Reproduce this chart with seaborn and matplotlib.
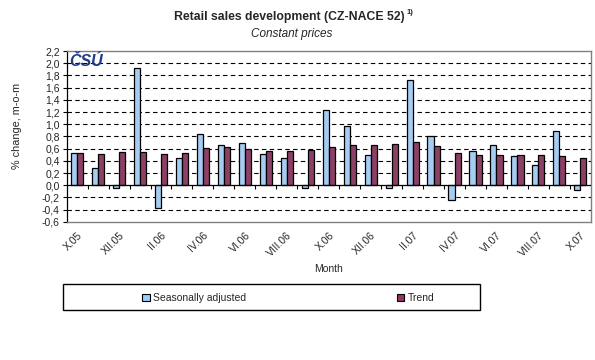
import pandas as pd
import seaborn as sns
import matplotlib.pyplot as plt
from matplotlib.patches import Rectangle

months = ["X.05", "XI.05", "XII.05", "I.06", "II.06", "III.06", "IV.06", "V.06",
          "VI.06", "VII.06", "VIII.06", "IX.06", "X.06", "XI.06", "XII.06", "I.07",
          "II.07", "III.07", "IV.07", "V.07", "VI.07", "VII.07", "VIII.07", "IX.07",
          "X.07"]
seas_adj = [0.53, 0.28, -0.05, 1.92, -0.37, 0.44, 0.84, 0.66, 0.69, 0.51, 0.44,
            -0.05, 1.23, 0.97, 0.49, -0.05, 1.73, 0.81, -0.25, 0.56, 0.66, 0.48,
            0.33, 0.89, -0.08]
trend = [0.53, 0.51, 0.54, 0.54, 0.51, 0.53, 0.61, 0.62, 0.59, 0.56, 0.56,
         0.575, 0.62, 0.66, 0.66, 0.67, 0.71, 0.64, 0.53, 0.49, 0.49, 0.49,
         0.49, 0.48, 0.44]
series_names = ["Seasonally adjusted", "Trend"]
colors = ["#99CCFF", "#993366"]
yticks = [-0.6 + 0.2 * i for i in range(15)]

df = pd.DataFrame({
    "month": months * 2,
    "value": seas_adj + trend,
    "series": [series_names[0]] * len(months) + [series_names[1]] * len(months),
})

sns.set_style("white")
plt.rcParams['font.family'] = ['Liberation Sans', 'DejaVu Sans']

fig = plt.figure(figsize=(5.95, 3.6), dpi=100)
ax = fig.add_axes([0.112, 0.384, 0.881, 0.474])

sns.barplot(data=df, x="month", y="value", hue="series", palette=colors,
            width=0.58, edgecolor="black", linewidth=0.9, ax=ax, legend=False)

ax.set_ylim(-0.6, 2.2)
ax.set_xlim(-0.5, len(months) - 0.5)
ax.set_yticks(yticks)
ax.set_yticklabels([f"{v:.1f}".replace(".", ",").replace("-0,0", "0,0") for v in yticks],
                   fontsize=7.5)
for v in yticks[1:-1]:
    if abs(v) > 1e-9:
        ax.axhline(v, color="black", lw=0.8, ls=(0, (4, 3)), zorder=0)
ax.axhline(0, color="black", lw=0.9, zorder=3)

# tick marks between categories on the zero line
ax.vlines([i - 0.5 for i in range(1, len(months))], -0.06, 0, color="black",
          lw=0.8, zorder=3)

ax.set_xticks(range(0, len(months), 2))
ax.set_xticklabels(months[::2], rotation=45, ha="right", rotation_mode="anchor",
                   fontsize=7.5)
ax.tick_params(axis="x", length=0, pad=6)
ax.tick_params(axis="y", length=3, width=0.8, color="black", direction="out",
               left=True, pad=2)
ax.set_xlabel("Month", fontsize=7.5, labelpad=4)
ax.set_ylabel("% change, m-o-m", fontsize=7.8, labelpad=10)
ax.yaxis.set_label_coords(-0.085, 0.56)

for s in ["top", "right", "bottom"]:
    ax.spines[s].set_color("#808080")
    ax.spines[s].set_linewidth(1.0)
ax.spines["left"].set_color("black")
ax.spines["left"].set_linewidth(0.9)

ax.text(0.005, 0.985, "ČSÚ", transform=ax.transAxes, ha="left", va="top",
        fontsize=11.5, fontweight="heavy", fontstyle="italic", color="#1F3C88")

fig.text(0.487, 0.952, "Retail sales development (CZ-NACE 52)", ha="center",
         va="center", fontsize=8.8, fontweight="bold")
fig.text(0.683, 0.964, "1)", ha="left", va="center", fontsize=5.5, fontweight="bold")
fig.text(0.49, 0.905, "Constant prices", ha="center", va="center", fontsize=8.5,
         fontstyle="italic")

# legend
fig.patches.append(Rectangle((63 / 595, 1 - 310 / 360), 417 / 595, 26 / 360,
                             transform=fig.transFigure, fill=False,
                             edgecolor="black", lw=1.0))
handles = [Rectangle((0, 0), 1, 1, facecolor=c, edgecolor="black", lw=0.8)
           for c in colors]
fig.legend(handles, series_names, loc="center left",
           bbox_to_anchor=(133 / 595, 1 - 298 / 360), ncol=2, frameon=False,
           fontsize=7.5, handlelength=0.7, handleheight=0.7, handletextpad=0.3,
           columnspacing=14.5)

fig.savefig("out.png", dpi=100)
